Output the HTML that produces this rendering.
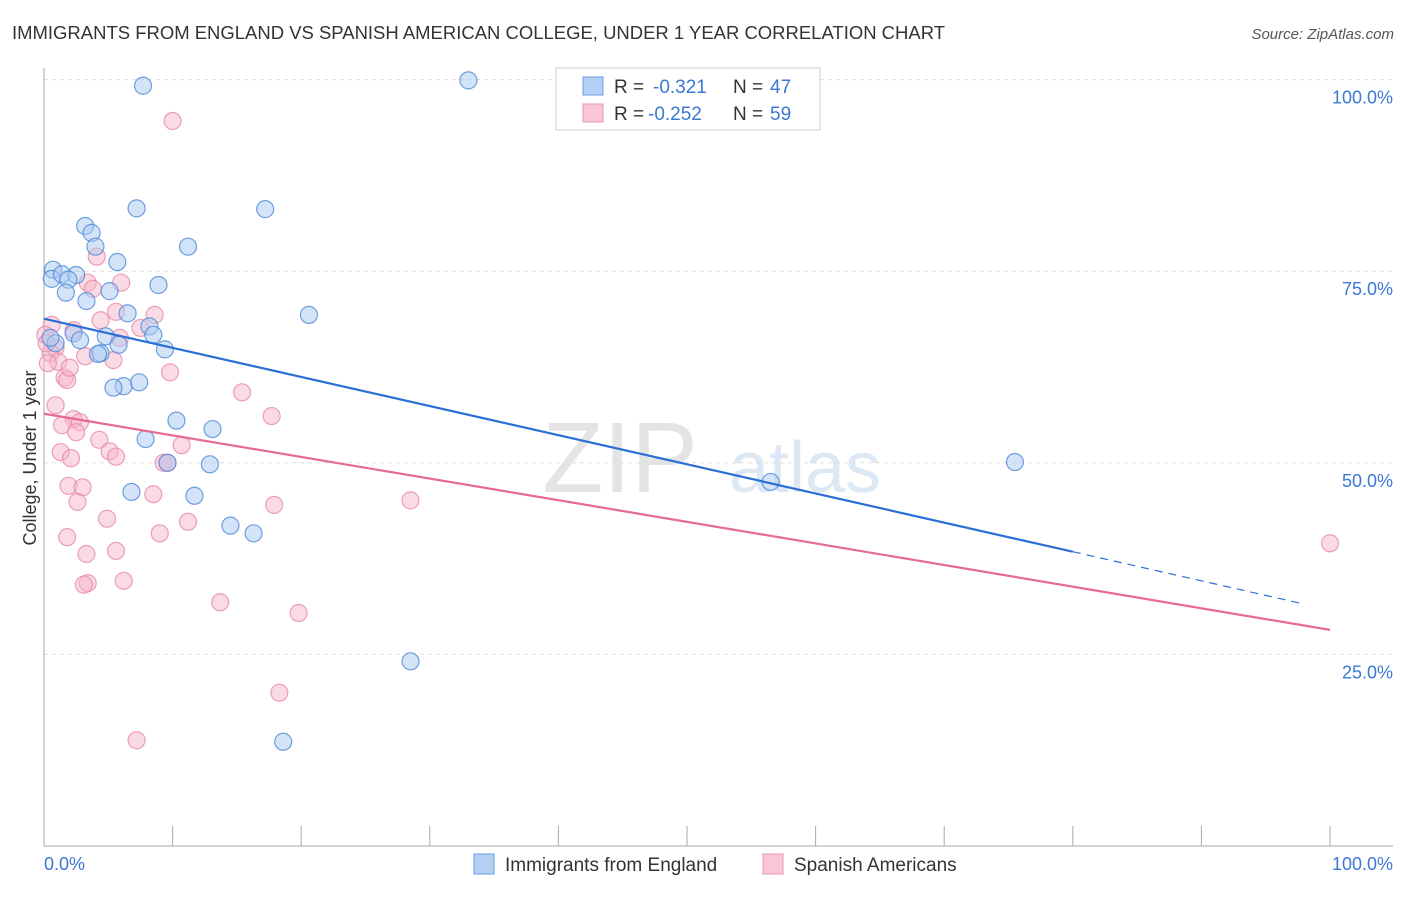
<!DOCTYPE html>
<html><head><meta charset="utf-8"><style>
body{margin:0;background:#fff;font-family:"Liberation Sans",sans-serif}
svg text{font-family:"Liberation Sans",sans-serif}
</style></head><body>
<svg id="chart" width="1406" height="892" xmlns="http://www.w3.org/2000/svg">
<text x="12" y="39" font-size="18" fill="#333" textLength="933" lengthAdjust="spacingAndGlyphs">IMMIGRANTS FROM ENGLAND VS SPANISH AMERICAN COLLEGE, UNDER 1 YEAR CORRELATION CHART</text>
<text x="1394" y="39" font-size="15" fill="#555" font-style="italic" text-anchor="end">Source: ZipAtlas.com</text>
<text x="36" y="458" font-size="18" fill="#333" text-anchor="middle" transform="rotate(-90 36 458)">College, Under 1 year</text>
<text x="620" y="492" font-size="100" fill="#e4e4e4" font-family="Liberation Serif" text-anchor="middle">ZIP</text>
<text x="805" y="492" font-size="72" fill="#dde8f5" text-anchor="middle">atlas</text>
<g id="grid"></g><g id="axes"></g><g id="pts"></g><g id="lines"></g>
<g>
<rect x="556" y="68" width="264" height="62" fill="#fff" stroke="#ccc"/>
<rect x="583" y="77" width="20" height="18" fill="#b5d0f5" stroke="#6a9ee0"/>
<rect x="583" y="104" width="20" height="18" fill="#f8c6d6" stroke="#ec95b2"/>
<text x="614" y="93" font-size="19" fill="#333">R = </text><text x="653" y="93" font-size="19" fill="#3a78d4">-0.321</text>
<text x="733" y="93" font-size="19" fill="#333">N = </text><text x="770" y="93" font-size="19" fill="#3a78d4">47</text>
<text x="614" y="120" font-size="19" fill="#333">R = </text><text x="648" y="120" font-size="19" fill="#3a78d4">-0.252</text>
<text x="733" y="120" font-size="19" fill="#333">N = </text><text x="770" y="120" font-size="19" fill="#3a78d4">59</text>
</g>
<g>
<rect x="474" y="854" width="20" height="20" fill="#b5d0f5" stroke="#6a9ee0"/>
<text x="505" y="871" font-size="19" fill="#333">Immigrants from England</text>
<rect x="763" y="854" width="20" height="20" fill="#f8c6d6" stroke="#ec95b2"/>
<text x="794" y="871" font-size="19" fill="#333">Spanish Americans</text>
</g>
</svg>
<script>
const blueX=[7.7,33.0,7.2,17.2,3.2,3.7,4.0,11.2,5.7,0.7,0.6,1.4,2.5,1.9,8.9,5.1,1.7,3.3,20.6,6.5,8.2,8.5,2.3,2.8,4.8,5.8,9.4,4.4,4.2,0.9,0.5,6.2,7.4,5.4,10.3,13.1,7.9,9.6,12.9,75.5,56.5,6.8,11.7,14.5,16.3,28.5,18.6];
const blueY=[99.2,99.9,83.2,83.1,80.9,80.0,78.2,78.2,76.2,75.2,74.0,74.6,74.5,73.9,73.2,72.4,72.2,71.1,69.3,69.5,67.8,66.7,66.9,66.0,66.5,65.4,64.8,64.3,64.2,65.6,66.3,60.0,60.5,59.8,55.5,54.4,53.1,50.0,49.8,50.1,47.5,46.2,45.7,41.8,40.8,24.1,13.6];
const pinkX=[10.0,4.1,3.4,6.0,3.8,8.6,5.6,4.4,7.5,0.6,2.3,0.1,5.9,0.9,0.5,3.2,5.4,1.1,0.3,9.8,1.6,1.8,15.4,0.9,17.7,2.3,2.8,1.4,2.5,4.3,10.7,5.1,1.3,5.6,2.1,9.3,9.6,1.9,3.0,8.5,2.6,28.5,17.9,4.9,11.2,9.0,1.8,5.6,3.3,6.2,3.4,3.1,13.7,19.8,18.3,7.2,100,0.2,2.0];
const pinkY=[94.6,76.9,73.5,73.5,72.7,69.3,69.7,68.6,67.6,68.0,67.3,66.7,66.3,65.0,64.3,63.9,63.4,63.2,63.0,61.8,61.1,60.8,59.2,57.5,56.1,55.7,55.3,54.9,54.0,53.0,52.3,51.5,51.4,50.8,50.6,50.0,50.0,47.0,46.8,45.9,44.9,45.1,44.5,42.7,42.3,40.8,40.3,38.5,38.1,34.6,34.3,34.1,31.8,30.4,20.0,13.8,39.5,65.6,62.4];
const blueFit=[68.8,30.8];
const pinkFit=[56.4,28.2];
const yTicks=[25,50,75,100];
const xTickLabels=["0.0%","100.0%"];
const NS="http://www.w3.org/2000/svg";
const X=v=>44+v*12.86, Y=v=>846-v*7.664;
function mk(tag,attrs,parent){const e=document.createElementNS(NS,tag);for(const k in attrs)e.setAttribute(k,attrs[k]);document.getElementById(parent).appendChild(e);return e;}
yTicks.forEach(t=>{
  const l=mk('line',{x1:44,x2:1393,y1:Y(t),y2:Y(t),stroke:'#ddd','stroke-dasharray':'4,4'},'grid');
  
  
  const tx=mk('text',{x:1393,y:Y(t)+24,'font-size':18,fill:'#3a78d4','text-anchor':'end'},'grid');
  tx.textContent=t.toFixed(1)+'%';
  
  
});
const ax=mk('line',{x1:44,x2:44,y1:68,y2:846,stroke:'#aaa'},'axes');


const bx=mk('line',{x1:44,x2:1393,y1:846,y2:846,stroke:'#aaa'},'axes');


for(let i=0;i<=10;i++){
  const t=mk('line',{x1:X(i*10),x2:X(i*10),y1:826,y2:846,stroke:'#aaa'},'axes');
  
  
}
[[0,'start',44],[100,'end',1393]].forEach((d,i)=>{
  const t=mk('text',{x:d[2],y:870,'font-size':18,fill:'#3a78d4','text-anchor':d[1]},'axes');
  t.textContent=xTickLabels[i];
  
  
});
function pts(xs,ys,fill,stroke,name){xs.forEach((x,i)=>{
  const c=mk('circle',{cx:X(x),cy:Y(ys[i]),r:8.5,fill:fill,'fill-opacity':0.5,stroke:stroke,'stroke-opacity':0.8,'stroke-width':1.2},'pts');
  
  
});}
pts(pinkX,pinkY,'#f5b5c9','#e98aa9','spanish-point');
pts(blueX,blueY,'#a9c9f2','#4d88d8','england-point');
const bAt=x=>blueFit[0]+(blueFit[1]-blueFit[0])*x/100;
const l1=mk('line',{x1:X(0),y1:Y(bAt(0)),x2:X(80),y2:Y(bAt(80)),stroke:'#2a6fd6','stroke-width':2.2},'lines');


const l2=mk('line',{x1:X(80),y1:Y(bAt(80)),x2:X(98),y2:Y(bAt(98)),stroke:'#2a6fd6','stroke-width':1.2,'stroke-dasharray':'8,6'},'lines');


const l3=mk('line',{x1:X(0),y1:Y(pinkFit[0]),x2:X(100),y2:Y(pinkFit[1]),stroke:'#e66a93','stroke-width':2.2},'lines');


</script>
</body></html>
